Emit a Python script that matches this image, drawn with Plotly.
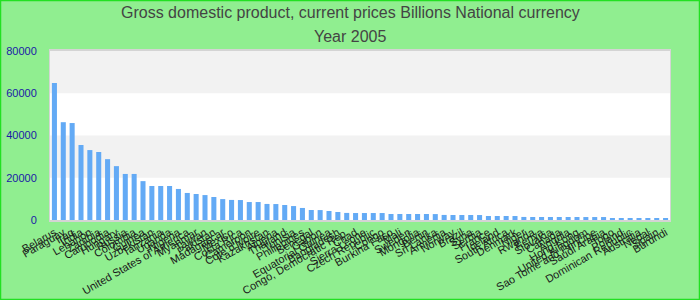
import plotly.graph_objects as go

countries = [
    "Belarus", "Paraguay", "Iraq", "India", "Lebanon", "Zambia", "Cambodia", "Hungary",
    "Russia", "Colombia", "Guinea", "Uzbekistan", "Tanzania", "Uganda", "Nigeria",
    "United States of America", "Myanmar", "Taiwan", "Pakistan", "Madagascar", "Mexico",
    "Costa Rica", "Cameroon", "Cote d'Ivoire", "Kazakhstan", "Algeria", "Thailand",
    "Tunisia", "Philippines", "Senegal", "Gabon", "Equatorial Guinea", "Bangladesh",
    "Congo, Democratic Rep.", "Chad", "Sierra Leone", "Czech Republic", "Congo",
    "Burkina Faso", "Mali", "Sweden", "Mongolia", "Benin", "Sri Lanka", "Armenia",
    "Norway", "Brazil", "Syria", "Serbia", "France", "Iceland", "South Africa",
    "Denmark", "Niger", "Rwanda", "Kenya", "Slovakia", "Canada", "Angola", "Hong Kong",
    "United Kingdom", "Sao Tome and Principe", "Saudi Arabia", "Togo", "Poland",
    "Dominican Republic", "Australia", "Nepal", "Spain", "Burundi",
]

gdp_2005 = [
    64800, 46300, 45900, 35500, 33100, 32200, 28800, 25500,
    21800, 21800, 18400, 16100, 16100, 16100, 14700,
    12800, 12300, 11800, 10900, 9900, 9500,
    9450, 8500, 8500, 7600, 7550, 7100,
    6600, 5700, 4750, 4700, 4250, 3800,
    3350, 3300, 3300, 3300, 3300,
    2850, 2850, 2850, 2850, 2850, 2800, 2400,
    2380, 2360, 2360, 2350, 1900, 1890, 1890,
    1880, 1450, 1420, 1420, 1420, 1420, 1410, 1410,
    1400, 1400, 1400, 960, 950,
    950, 945, 940, 930, 920,
]

y_ticks = [0, 20000, 40000, 60000, 80000]
band_edges = [(20000, 40000), (60000, 80000)]
title_lines = ["Gross domestic product, current prices Billions National currency", "Year 2005"]

W, H = 700, 300
ml, mr, mt, mb = 50, 30, 51, 80
pw, ph = W - ml - mr, H - mt - mb

fig = go.Figure(go.Bar(
    x=countries, y=gdp_2005,
    marker=dict(color="#63aaf5", line=dict(width=0)),
))

shapes = []
for lo, hi in band_edges:
    shapes.append(dict(type="rect", xref="paper", yref="y", x0=0, x1=1, y0=lo, y1=hi,
                       fillcolor="#f2f2f2", line=dict(width=0), layer="below"))
# outer border of the page
shapes.append(dict(type="rect", xref="paper", yref="paper",
                   x0=-(ml - 0.5) / pw, x1=1 + (mr - 0.5) / pw,
                   y0=-(mb - 0.5) / ph, y1=1 + (mt - 0.5) / ph,
                   line=dict(color="#22e022", width=1.5), fillcolor="rgba(0,0,0,0)"))

annotations = []
for i, (txt, ypix) in enumerate(zip(title_lines, [13, 36])):
    annotations.append(dict(
        text=txt, xref="paper", yref="paper",
        x=(W / 2 - ml) / pw, y=1 + (mt - ypix) / ph,
        xanchor="center", yanchor="middle", showarrow=False,
        font=dict(size=16, color="#444444"),
    ))

fig.update_layout(
    width=W, height=H,
    margin=dict(l=ml, r=mr, t=mt, b=mb, autoexpand=False),
    paper_bgcolor="#90ee90",
    plot_bgcolor="#ffffff",
    bargap=0.43,
    showlegend=False,
    shapes=shapes,
    annotations=annotations,
    font=dict(family="Liberation Sans, Arial, sans-serif"),
    xaxis=dict(
        type="category", tickmode="array", tickvals=countries,
        tickangle=-30, tickfont=dict(size=11, color="#1a1a1a"),
        showgrid=False, showline=True, linecolor="#d4d4d4", linewidth=2,
        mirror=True, ticks="", automargin=False,
    ),
    yaxis=dict(
        range=[0, 80000], tickvals=y_ticks, tickformat="d",
        tickfont=dict(size=11, color="#1a1aa6"),
        showgrid=False, zeroline=False, showline=True, linecolor="#d4d4d4",
        linewidth=1, mirror=True, ticks="", ticklabelstandoff=10, automargin=False,
    ),
)

fig.write_html("out.html")
